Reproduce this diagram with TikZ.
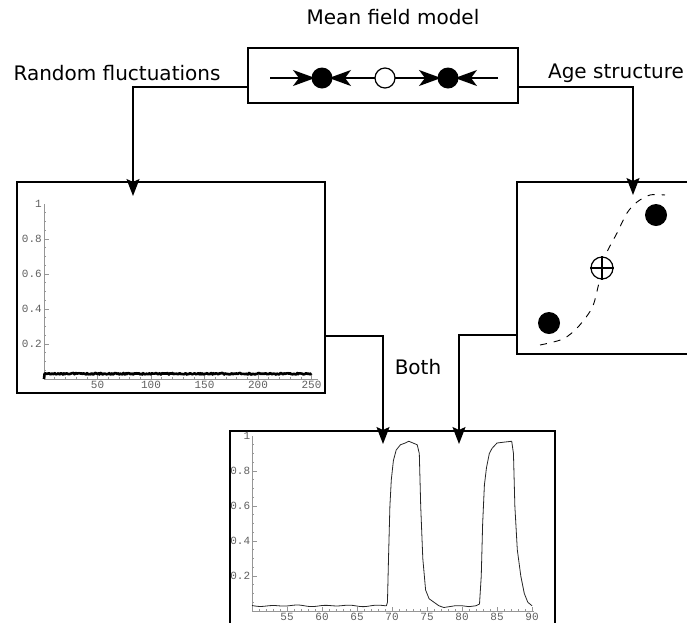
\documentclass[tikz,border=0pt]{standalone}
\usepackage{fontspec}
\setmainfont{DejaVu Sans}
\newfontfamily\monofont{Liberation Mono}
\usetikzlibrary{arrows.meta}
\definecolor{axgray}{RGB}{150,150,150}
\definecolor{lblgray}{RGB}{95,95,95}
\begin{document}
\begin{tikzpicture}[x=1pt,y=-1pt,
  box/.style={draw,line width=1.6pt,inner sep=0pt},
  conn/.style={line width=1.5pt,-{Stealth[length=17pt,width=13pt,inset=3pt]}},
  inarr/.style={line width=1.2pt,shorten >=-3pt,-{Stealth[length=22pt,width=16pt,inset=6pt]}},
  lbl/.style={font=\fontsize{20}{24}\selectfont,inner sep=0pt},
  ticklbl/.style={font=\monofont\fontsize{11}{13}\selectfont,text=lblgray,inner sep=1pt},
  ax/.style={axgray,line width=0.6pt},
  dot/.style={circle,fill=black,inner sep=0pt},
  ring/.style={circle,draw,fill=white,line width=1.2pt,inner sep=0pt}
]
\useasboundingbox (0,0) rectangle (687,622);
\clip (0,0) rectangle (687,622);
\pgfmathsetseed{4242}

% texts
\node[lbl] (tmf) at (393,17) {Mean field model};
\node[lbl] (trf) at (117,73) {Random fluctuations};
\node[lbl] (tas) at (616,73) {Age structure};
\node[lbl] (tb) at (418,367) {Both};

% boxes
\node[box,minimum width=270pt,minimum height=55pt] (mf) at (383,75.5) {};
\node[box,minimum width=308pt,minimum height=211pt] (rf) at (171,287.5) {};
\node[box,minimum width=203pt,minimum height=172pt] (age) at (618.5,268) {};
\node[box,minimum width=325pt,minimum height=229pt] (both) at (392.5,545.5) {};

% connectors
\coordinate (t1) at (133,196);
\coordinate (t2) at (633,195);
\coordinate (t3) at (383,444);
\coordinate (t4) at (459,444);
\draw[conn] ([yshift=-11.5pt]mf.west) -| (t1);
\draw[conn] ([yshift=-11.5pt]mf.east) -| (t2);
\draw[conn] ([yshift=-48.5pt]rf.east) -| (t3);
\draw[conn] ([yshift=-67pt]age.west) -| (t4);

% mean field phase line
\coordinate (l0) at (270,78);
\coordinate (l1) at (498,78);
\draw[line width=1.2pt] (l0) -- (l1);
\node[ring,minimum size=20pt] (oc) at (385,78) {};
\draw[inarr] (l0) -- (312,78);
\draw[inarr] (oc) -- (332,78);
\draw[inarr] (oc) -- (438,78);
\draw[inarr] (l1) -- (458,78);
\node[dot,minimum size=21pt] (c1) at (322,78) {};
\node[dot,minimum size=21pt] (c2) at (448,78) {};

% age structure sketch
\draw[line width=0.9pt,dash pattern=on 7pt off 7pt] plot[smooth] coordinates {(540,345) (563,339) (578,327) (592,308) (598,287) (602,268) (607,252) (617,233) (627,213) (637,202) (650,195) (665,195)};
\node[dot,minimum size=22pt] (f1) at (656,215) {};
\node[dot,minimum size=22pt] (f2) at (549,323) {};
\node[ring,minimum size=22pt] (x0) at (602,268) {};
\draw[line width=1.2pt] (x0.north) -- (x0.south) (x0.west) -- (x0.east);

% left plot
\begin{scope}[shift={(44,379)},x=1.07pt,y=175pt]
  \draw[ax] (0,0) -- (256,0);
  \draw[ax] (0,0) -- (0,1);
  \foreach \v in {10,20,...,250} \draw[ax] (\v,0) -- ++(0,0.012);
  \foreach \v in {50,100,...,250} {\draw[ax] (\v,0) -- ++(0,0.024);
    \node[ticklbl,anchor=north] at (\v,-0.005) {\v};}
  \foreach \v in {0.05,0.1,...,1.0} \draw[ax] (0,\v) -- ++(2.3,0);
  \foreach \v in {0.2,0.4,0.6,0.8} {\draw[ax] (0,\v) -- ++(4.5,0);
    \node[ticklbl,anchor=east] at (-1,\v) {\v};}
  \node[ticklbl,anchor=east] at (-1,1) {1};
  \draw[line width=2.6pt,line join=round] (0,0) -- (0.5,0.028) -- plot[domain=1:250,samples=300] (\x,{0.03+0.0045*rand});
\end{scope}

% bottom plot
\begin{scope}[shift={(-98,611)},x=7pt,y=175pt]
  \draw[ax] (50,0) -- (90.3,0);
  \draw[ax] (50,0) -- (50,1);
  \foreach \v in {51,52,...,90} \draw[ax] (\v,0) -- ++(0,0.012);
  \foreach \v in {55,60,...,90} {\draw[ax] (\v,0) -- ++(0,0.024);
    \node[ticklbl,anchor=north] at (\v,-0.005) {\v};}
  \foreach \v in {0.05,0.1,...,1.0} \draw[ax] (50,\v) -- ++(0.33,0);
  \foreach \v in {0.2,0.4,0.6,0.8} {\draw[ax] (50,\v) -- ++(0.65,0);
    \node[ticklbl,anchor=east] at (49.9,\v) {\v};}
  \node[ticklbl,anchor=east] at (49.9,1) {1};
  \draw[line width=0.8pt,black!85,line join=round]
    plot[domain=50:69.2,samples=97] (\x,{0.03+0.003*sin(\x*97)+0.002*sin(\x*53+20)})
    -- (69.35,0.05) -- (69.5,0.3) -- (69.7,0.6) -- (69.9,0.75) -- (70.2,0.86) -- (70.6,0.92)
    -- (71.2,0.95) -- (71.9,0.96) -- (72.4,0.97) -- (73.0,0.96) -- (73.6,0.95) -- (73.9,0.9)
    -- (74.1,0.6) -- (74.4,0.3) -- (74.8,0.12) -- (75.3,0.07) -- (76.0,0.05) -- (76.7,0.03)
    -- (77.4,0.02) -- (78.2,0.025) -- (79,0.03) -- (80,0.03) -- (81,0.025) -- (82,0.03) -- (82.5,0.04)
    -- (82.75,0.2) -- (82.95,0.5) -- (83.2,0.72) -- (83.5,0.82) -- (83.9,0.9) -- (84.3,0.93)
    -- (85,0.96) -- (86,0.965) -- (87.1,0.97) -- (87.35,0.9) -- (87.55,0.6) -- (87.9,0.35)
    -- (88.4,0.2) -- (88.9,0.1) -- (89.4,0.05) -- (90,0.03);
\end{scope}
\end{tikzpicture}
\end{document}
